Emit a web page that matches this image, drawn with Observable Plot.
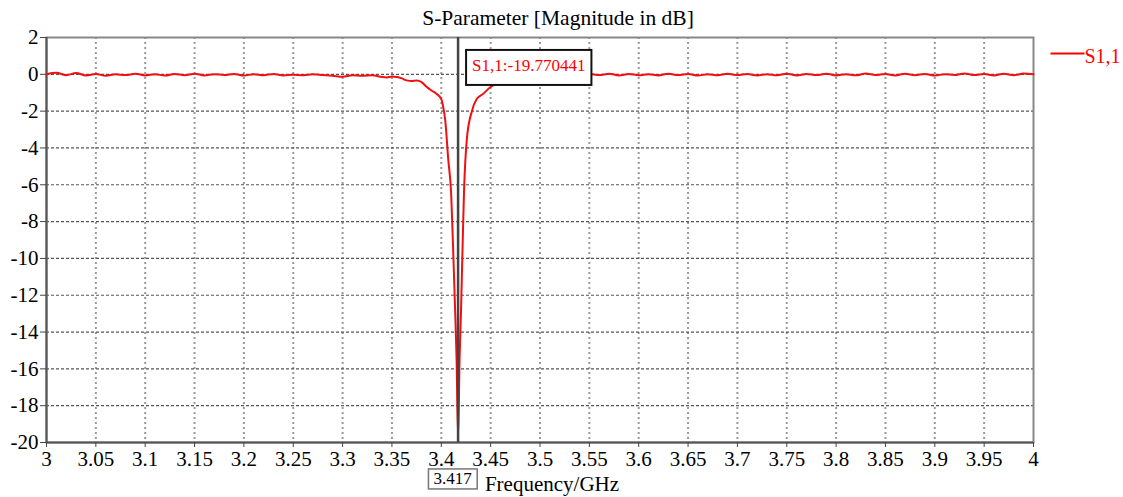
<!DOCTYPE html>
<html><head>
<script src="https://cdn.jsdelivr.net/npm/d3@7"></script>
<script src="https://cdn.jsdelivr.net/npm/@observablehq/plot@0.6"></script>
</head><body style="margin:0;background:#fff">
<div id="chart"></div>
<script>
const title = "S-Parameter [Magnitude in dB]";
const xLabel = "Frequency/GHz";
const seriesName = "S1,1";
const markerFreq = 3.417;
const markerValue = -19.770441;

const xTicks = [3,3.05,3.1,3.15,3.2,3.25,3.3,3.35,3.4,3.45,3.5,3.55,3.6,3.65,3.7,3.75,3.8,3.85,3.9,3.95,4];
const xTickLabels = ["3","3.05","3.1","3.15","3.2","3.25","3.3","3.35","3.4","3.45","3.5","3.55","3.6","3.65","3.7","3.75","3.8","3.85","3.9","3.95","4"];
const yTicks = [2,0,-2,-4,-6,-8,-10,-12,-14,-16,-18,-20];
const yTickLabels = ["2","0","-2","-4","-6","-8","-10","-12","-14","-16","-18","-20"];

const freq = [
3.00,3.01,3.02,3.03,3.04,3.05,3.06,3.07,3.08,3.09,3.10,3.11,3.12,3.13,3.14,3.15,3.16,3.17,3.18,3.19,
3.20,3.21,3.22,3.23,3.24,3.25,3.26,3.27,3.28,3.29,3.30,3.31,3.32,3.33,3.34,
3.345,3.35,3.355,3.36,3.365,3.37,3.375,3.38,3.385,3.39,3.395,3.40,3.402,3.404,3.407,3.41,3.412,3.414,3.4155,
3.417,
3.4185,3.42,3.4215,3.423,3.426,3.431,3.436,3.4425,3.4495,3.46,3.47,3.48,3.49,3.50,
3.51,3.52,3.53,3.54,3.55,3.56,3.57,3.58,3.59,3.60,3.61,3.62,3.63,3.64,3.65,3.66,3.67,3.68,3.69,3.70,
3.71,3.72,3.73,3.74,3.75,3.76,3.77,3.78,3.79,3.80,3.81,3.82,3.83,3.84,3.85,3.86,3.87,3.88,3.89,3.90,
3.91,3.92,3.93,3.94,3.95,3.96,3.97,3.98,3.99,4.00];
const s11 = [
0.00,0.08,-0.05,0.07,-0.06,0.02,-0.08,0.00,-0.04,0.03,-0.06,0.01,-0.07,0.02,-0.05,0.03,-0.06,0.01,-0.04,0.02,
-0.07,0.01,-0.05,0.02,-0.06,-0.02,-0.05,0.00,-0.04,-0.08,-0.13,-0.05,-0.08,-0.05,-0.15,
-0.17,-0.12,-0.15,-0.22,-0.33,-0.36,-0.34,-0.42,-0.68,-0.88,-1.05,-1.35,-1.8,-2.5,-4.6,-6.5,-9.5,-12.8,-15.5,
-19.770441,
-15.5,-12.8,-9.5,-6.4,-3.45,-2.0,-1.33,-1.06,-0.7,-0.42,-0.22,-0.12,-0.06,-0.03,
0.02,-0.04,0.03,-0.05,0.02,-0.04,0.03,-0.06,0.02,-0.05,0.01,-0.06,0.03,-0.04,0.02,-0.07,0.01,-0.05,0.03,-0.04,
0.02,-0.06,0.01,-0.05,0.03,-0.06,0.02,-0.04,0.03,-0.06,0.01,-0.05,0.04,-0.04,0.02,-0.06,0.03,-0.05,0.02,-0.07,
0.01,-0.04,0.05,-0.04,0.02,-0.06,0.03,-0.05,0.04,0.00];

const data = freq.map((f, i) => ({f, v: s11[i]}));
const marker = [{f: markerFreq, v: markerValue}];
const serif = "Liberation Serif";

const lineSymbol = {draw(ctx) { ctx.moveTo(-17, 0); ctx.lineTo(17, 0); }};

const chart = Plot.plot({
  width: 1123,
  height: 497,
  marginLeft: 46,
  marginRight: 90,
  marginTop: 37,
  marginBottom: 55,
  style: "background: #fff; font-family: 'Liberation Serif', serif;",
  x: {domain: [3, 4], label: null},
  y: {domain: [-20, 2], label: null},
  marks: [
    Plot.ruleX(xTicks.slice(1, -1), {stroke: "#9a9a9a", strokeWidth: 2, strokeDasharray: "2,3"}),
    Plot.ruleY(yTicks.slice(1, -1), {stroke: "#555", strokeWidth: 1.2, strokeDasharray: "3,2"}),
    Plot.frame({stroke: "#888", strokeWidth: 2}),
    Plot.ruleX([xTicks[0]], {stroke: "#555", strokeWidth: 2}),
    Plot.ruleY([yTicks[yTicks.length - 1]], {stroke: "#555", strokeWidth: 2}),
    Plot.axisX(xTicks, {tickFormat: d => xTickLabels[xTicks.indexOf(d)], tickSize: 5, tickPadding: 4, fontSize: 21, fontFamily: serif, stroke: "#444", fill: "#000", label: null}),
    Plot.axisY(yTicks, {tickFormat: d => yTickLabels[yTicks.indexOf(d)], tickSize: 6, tickPadding: 2, fontSize: 21, fontFamily: serif, stroke: "#444", fill: "#000", label: null}),
    Plot.line(data, {x: "f", y: "v", stroke: "#f01010", strokeWidth: 2, curve: "monotone-x"}),
    Plot.ruleX(marker, {x: "f", stroke: "#444", strokeWidth: 2.5}),
    Plot.text(marker, {x: "f", frameAnchor: "top", lineAnchor: "middle", dy: 28, dx: 14, textAnchor: "start", text: d => `${seriesName}:${d.v}`, fill: "#f00", fontSize: 17, fontFamily: serif, className: "boxed-top"}),
    Plot.text(marker, {x: "f", frameAnchor: "bottom", lineAnchor: "middle", dy: 36, dx: -5.5, text: d => String(d.f), fill: "#000", fontSize: 17, fontFamily: serif, className: "boxed-bottom"}),
    Plot.text([xLabel], {frameAnchor: "bottom", lineAnchor: "middle", dy: 42, dx: 12, text: d => d, fontSize: 21, fontFamily: serif, fill: "#000"}),
    Plot.text([title], {frameAnchor: "top", lineAnchor: "middle", dy: -19, dx: 18, text: d => d, fontSize: 21.5, fontFamily: serif, fill: "#000"}),
    Plot.dot([seriesName], {frameAnchor: "top-right", dx: 34, dy: 16, symbol: lineSymbol, stroke: "#f00", strokeWidth: 2}),
    Plot.text([seriesName], {frameAnchor: "top-right", lineAnchor: "middle", dx: 51, dy: 19, textAnchor: "start", text: d => d, fill: "#f00", fontSize: 20, fontFamily: serif})
  ]
});
document.getElementById("chart").append(chart);

function boxText(cls, padX, padTop, padBottom, stroke, sw) {
  d3.select(chart).selectAll(`g.${cls} text`).each(function() {
    const b = this.getBBox();
    const t = this.getAttribute("transform");
    d3.select(this.parentNode).insert("rect", () => this)
      .attr("transform", t)
      .attr("x", b.x - padX).attr("y", b.y - padTop)
      .attr("width", b.width + 2 * padX).attr("height", b.height + padTop + padBottom)
      .attr("fill", "#fff").attr("stroke", stroke).attr("stroke-width", sw);
  });
}
boxText("boxed-top", 6, 6, 10, "#111", 2);
boxText("boxed-bottom", 5, 0, 1, "#777", 1.5);
</script>
</body></html>
